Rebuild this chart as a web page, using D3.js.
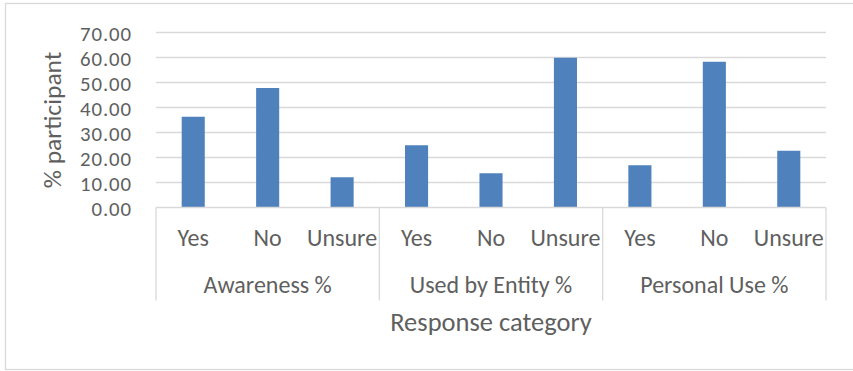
<!DOCTYPE html>
<html>
<head>
<meta charset="utf-8">
<script src="https://cdn.jsdelivr.net/npm/d3@7"></script>
<style>
  html, body { margin: 0; padding: 0; background: #fff; }
  svg text { font-family: Carlito, Calibri, Lato, sans-serif; fill: #5f5f5f; }
</style>
</head>
<body>
<svg id="chart" width="853" height="371"></svg>
<script>
// Survey responses, grouped by question
const groups = ["Awareness %", "Used by Entity %", "Personal Use %"];
const responses = ["Yes", "No", "Unsure"];
const awareness = [36.3, 47.8, 12.1];
const usedByEntity = [24.9, 13.7, 59.9];
const personalUse = [16.9, 58.3, 22.7];
const yTicks = [0, 10, 20, 30, 40, 50, 60, 70];

const seriesByGroup = [awareness, usedByEntity, personalUse];
const rows = [];
groups.forEach((g, gi) => {
  responses.forEach((r, ri) => {
    rows.push({ key: g + "|" + r, group: g, response: r, value: seriesByGroup[gi][ri] });
  });
});

const svg = d3.select("#chart");
const W = 853, H = 371;
const m = { left: 156, right: 27, top: 32.5, bottom: 163.5 };
const plotW = W - m.left - m.right;
const plotH = H - m.top - m.bottom;

// chart frame
svg.append("rect")
  .attr("x", 5.5).attr("y", 3.5)
  .attr("width", 860).attr("height", 366)
  .attr("fill", "#fff").attr("stroke", "#d9d9d9").attr("stroke-width", 1.3);

const g = svg.append("g").attr("transform", `translate(${m.left},${m.top})`);

const x = d3.scaleBand()
  .domain(rows.map(d => d.key))
  .range([0, plotW])
  .paddingInner(0.69)
  .paddingOuter(0.345);

const y = d3.scaleLinear().domain([0, 70]).range([plotH, 0]);

// gridlines
g.append("g")
  .selectAll("line")
  .data(yTicks.filter(t => t > 0))
  .join("line")
  .attr("x1", 0).attr("x2", plotW)
  .attr("y1", d => y(d)).attr("y2", d => y(d))
  .attr("stroke", "#d9d9d9").attr("stroke-width", 1.3);

// y axis labels
const yAxis = d3.axisLeft(y).tickValues(yTicks).tickFormat(d3.format(".2f")).tickSize(0).tickPadding(24);
const ya = g.append("g").call(yAxis);
ya.select(".domain").remove();
ya.selectAll("text")
  .style("font-size", "20.8px")
  .style("letter-spacing", "0.9px")
  .attr("fill", "#5f5f5f")
  .attr("dy", "0.36em");

// bars
g.append("g")
  .selectAll("rect")
  .data(rows)
  .join("rect")
  .attr("x", d => x(d.key))
  .attr("width", x.bandwidth())
  .attr("y", d => y(d.value))
  .attr("height", d => y(0) - y(d.value))
  .attr("fill", "#4f81bd");

// category axis line
g.append("line")
  .attr("x1", 0).attr("x2", plotW)
  .attr("y1", plotH).attr("y2", plotH)
  .attr("stroke", "#d9d9d9").attr("stroke-width", 1.3);

// group separators
const groupW = plotW / groups.length;
const seps = d3.range(groups.length + 1).map(i => i * groupW);
g.append("g")
  .selectAll("line")
  .data(seps)
  .join("line")
  .attr("x1", d => d).attr("x2", d => d)
  .attr("y1", plotH).attr("y2", plotH + 93)
  .attr("stroke", "#d9d9d9").attr("stroke-width", 1.3);

// response labels
g.append("g")
  .selectAll("text")
  .data(rows)
  .join("text")
  .attr("x", d => x(d.key) + x.bandwidth() / 2)
  .attr("y", plotH + 38.5)
  .attr("text-anchor", "middle")
  .style("font-size", "24px")
  .text(d => d.response);

// group labels
g.append("g")
  .selectAll("text")
  .data(groups)
  .join("text")
  .attr("x", (d, i) => (i + 0.5) * groupW)
  .attr("y", plotH + 85)
  .attr("text-anchor", "middle")
  .style("font-size", "24px")
  .text(d => d);

// axis titles
g.append("text")
  .attr("x", plotW / 2)
  .attr("y", plotH + 123.5)
  .attr("text-anchor", "middle")
  .style("font-size", "26.5px")
  .text("Response category");

svg.append("text")
  .attr("transform", `translate(61,120) rotate(-90)`)
  .attr("text-anchor", "middle")
  .style("font-size", "25.5px")
  .text("% participant");
</script>
</body>
</html>
